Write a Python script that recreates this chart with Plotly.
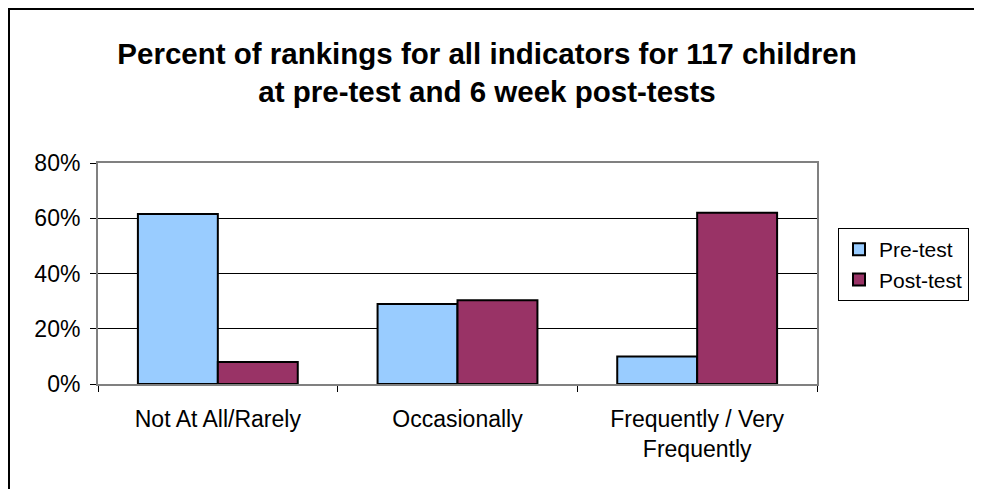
import plotly.graph_objects as go

categories = ["Not At All/Rarely", "Occasionally", "Frequently / Very<br>Frequently"]
pre_test = [0.615, 0.29, 0.10]
post_test = [0.08, 0.303, 0.62]
series_names = ["Pre-test", "Post-test"]
y_ticks = [0, 0.2, 0.4, 0.6, 0.8]

FONT = "Arial, Liberation Sans, sans-serif"

fig = go.Figure()
fig.add_trace(go.Bar(x=categories, y=pre_test, name=series_names[0],
                     marker=dict(color="#99CCFF", line=dict(color="black", width=2))))
fig.add_trace(go.Bar(x=categories, y=post_test, name=series_names[1],
                     marker=dict(color="#993366", line=dict(color="black", width=2))))

# page has an 8px body margin; work in reference-image coordinates
OFF = 8
W, H = 974, 481
L, T = 98 - OFF, 163 - OFF
pw, ph = 719, 221
R, B = W - L - pw, H - T - ph

def px(x):
    return (x - OFF - L) / pw

def py(y):
    return (T + ph - (y - OFF)) / ph

def cx(x):
    return (x - OFF) / W

def cy(y):
    return 1 - (y - OFF) / H

fig.update_layout(
    width=W, height=H,
    margin=dict(l=L, r=R, t=T, b=B, autoexpand=False),
    paper_bgcolor="white", plot_bgcolor="white",
    barmode="group", bargap=0.333, bargroupgap=0,
    font=dict(family=FONT, size=23, color="black"),
    title=dict(text="<b>Percent of rankings for all indicators for 117 children<br>at pre-test and 6 week post-tests</b>",
               x=px(487), xanchor="center", xref="paper",
               y=cy(64), yanchor="middle",
               font=dict(family=FONT, size=29.5, color="black")),
    legend=dict(xref="container", yref="container", x=cx(838), y=cy(228),
                xanchor="left", yanchor="top",
                bordercolor="black", borderwidth=1, bgcolor="white",
                font=dict(family=FONT, size=21, color="black"),
                itemwidth=30, tracegroupgap=6),
    showlegend=True,
)
fig.update_xaxes(showline=True, linecolor="#808080", linewidth=2, mirror=True,
                 ticks="outside", tickson="boundaries", ticklen=6, tickcolor="black",
                 ticklabelstandoff=13,
                 showgrid=False, tickfont=dict(family=FONT, size=23, color="black"))
fig.update_yaxes(range=[0, 0.8], tickvals=y_ticks, tickformat=".0%",
                 showline=True, linecolor="#808080", linewidth=2, mirror=True,
                 ticks="outside", ticklen=6, tickcolor="black",
                 ticklabelstandoff=5,
                 showgrid=True, gridcolor="black", gridwidth=1, zeroline=False,
                 tickfont=dict(family=FONT, size=23, color="black"))

# outer chart border (top and left visible)
fig.add_shape(type="line", xref="paper", yref="paper", x0=px(8), x1=px(1000), y0=py(9), y1=py(9),
              line=dict(color="black", width=2))
fig.add_shape(type="line", xref="paper", yref="paper", x0=px(9), x1=px(9), y0=py(8), y1=py(500),
              line=dict(color="black", width=2))

fig.write_html("out.html")
